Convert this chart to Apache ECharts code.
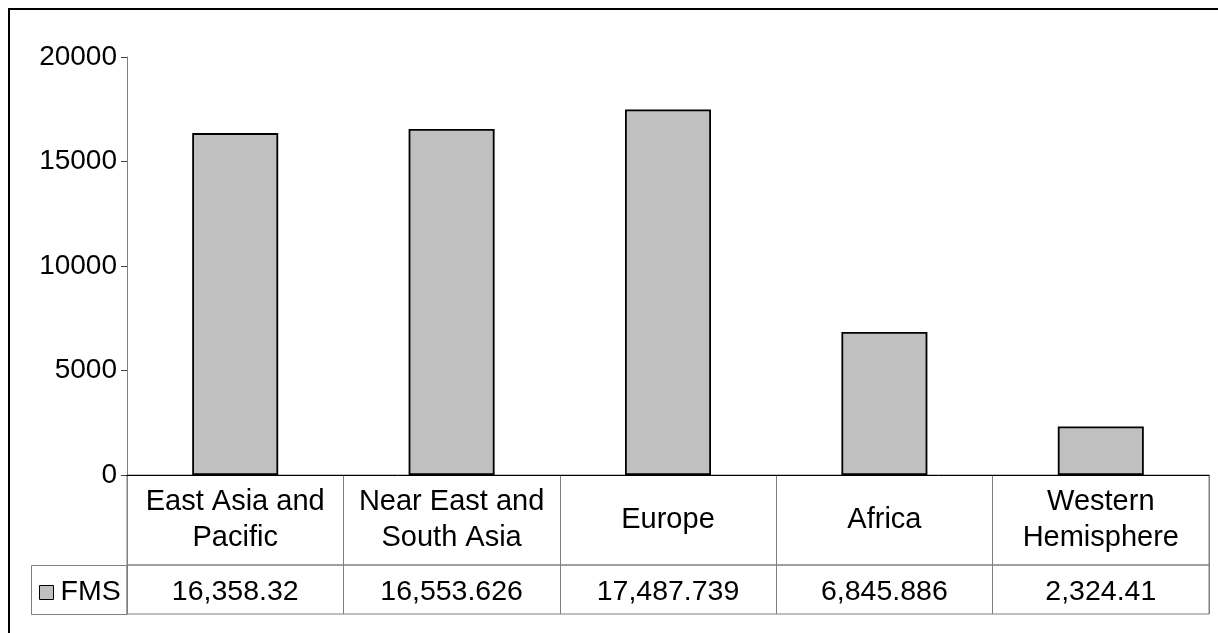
<!DOCTYPE html>
<html>
<head>
<meta charset="utf-8">
<title>FMS by Region</title>
<script src="https://cdn.jsdelivr.net/npm/echarts@6/dist/echarts.min.js"></script>
<style>
  html, body { margin: 0; padding: 0; background: #ffffff; }
  #chart { width: 1218px; height: 633px; }
</style>
</head>
<body>
<div id="chart"></div>
<script>
// Regions (line breaks as shown in the table header row)
const categories = [
  'East Asia and\nPacific',
  'Near East and\nSouth Asia',
  'Europe',
  'Africa',
  'Western\nHemisphere'
];
// FMS amounts per region
const seriesName = 'FMS';
const fmsValues = [16358.32, 16553.626, 17487.739, 6845.886, 2324.41];
// Value axis range
const yMin = 0;
const yMax = 20000;
const yStep = 5000;

// Data-table row text, formatted from the same values as the bars
const valueLabels = fmsValues.map(v =>
  v.toLocaleString('en-US', { maximumFractionDigits: 3 })
);

const FONT = '"Liberation Sans", Arial, sans-serif';
const TABLE_LINE = '#7f7f7f';

const chart = echarts.init(document.getElementById('chart'), null, { renderer: 'canvas' });

const gridLeft = 127;
const gridRight = 9;

chart.setOption({
  backgroundColor: '#ffffff',
  animation: false,
  textStyle: { fontFamily: FONT },
  grid: [
    // plot area
    { left: gridLeft, right: gridRight, top: 57, height: 418, show: false },
    // category header row of the data table
    { left: gridLeft, right: gridRight, top: 475, height: 90, show: true,
      borderColor: TABLE_LINE, borderWidth: 1, backgroundColor: 'transparent' },
    // value row of the data table
    { left: gridLeft, right: gridRight, top: 565, height: 49, show: true,
      borderColor: TABLE_LINE, borderWidth: 1, backgroundColor: 'transparent' }
  ],
  xAxis: [
    {
      gridIndex: 0, type: 'category', data: categories, boundaryGap: true,
      axisLine: { show: true, lineStyle: { color: '#000000', width: 1 } },
      axisTick: { show: false },
      axisLabel: { show: false },
      splitLine: { show: false },
      z: 5
    },
    {
      gridIndex: 1, type: 'category', data: categories, boundaryGap: true,
      position: 'bottom',
      axisLine: { show: false },
      axisTick: { show: false },
      splitLine: { show: true, interval: 0, lineStyle: { color: TABLE_LINE, width: 1 } },
      axisLabel: {
        show: true, interval: 0, inside: true, margin: 45,
        verticalAlign: 'middle', align: 'center',
        fontSize: 29, lineHeight: 36, color: '#000000', fontFamily: FONT
      }
    },
    {
      gridIndex: 2, type: 'category', data: valueLabels, boundaryGap: true,
      position: 'bottom',
      axisLine: { show: false },
      axisTick: { show: false },
      splitLine: { show: true, interval: 0, lineStyle: { color: TABLE_LINE, width: 1 } },
      axisLabel: {
        show: true, interval: 0, inside: true, margin: 22,
        verticalAlign: 'middle', align: 'center',
        fontSize: 28.5, color: '#000000', fontFamily: FONT
      }
    }
  ],
  yAxis: [
    {
      gridIndex: 0, type: 'value', min: yMin, max: yMax, interval: yStep,
      axisLine: { show: true, lineStyle: { color: '#808080', width: 1 } },
      axisTick: { show: true, inside: false, length: 6, lineStyle: { color: '#404040', width: 1 } },
      axisLabel: {
        show: true, margin: 10, fontSize: 28, color: '#000000', fontFamily: FONT,
        formatter: v => String(v)
      },
      splitLine: { show: false }
    },
    { gridIndex: 1, type: 'value', show: false },
    { gridIndex: 2, type: 'value', show: false }
  ],
  legend: {
    show: true,
    left: 39,
    top: 578,
    padding: 0,
    orient: 'horizontal',
    icon: 'rect',
    itemWidth: 14,
    itemHeight: 14,
    itemStyle: { borderColor: '#000000', borderWidth: 1 },
    textStyle: { fontSize: 28.5, color: '#000000', fontFamily: FONT, padding: [0, 0, 0, 2] },
    data: [seriesName]
  },
  series: [
    {
      name: seriesName,
      type: 'bar',
      xAxisIndex: 0,
      yAxisIndex: 0,
      data: fmsValues,
      barWidth: 86,
      itemStyle: { color: '#c0c0c0', borderColor: '#000000', borderWidth: 1.8 }
    }
  ],
  graphic: [
    // legend key cell at the left of the value row
    {
      type: 'rect', z: 10, silent: true,
      shape: { x: 31.5, y: 565.5, width: 95.5, height: 49 },
      style: { fill: 'none', stroke: TABLE_LINE, lineWidth: 1 }
    },
    // chart frame
    {
      type: 'rect', z: 10, silent: true,
      shape: { x: 9, y: 9, width: 1400, height: 800 },
      style: { fill: 'none', stroke: '#000000', lineWidth: 2 }
    }
  ]
});
</script>
</body>
</html>
